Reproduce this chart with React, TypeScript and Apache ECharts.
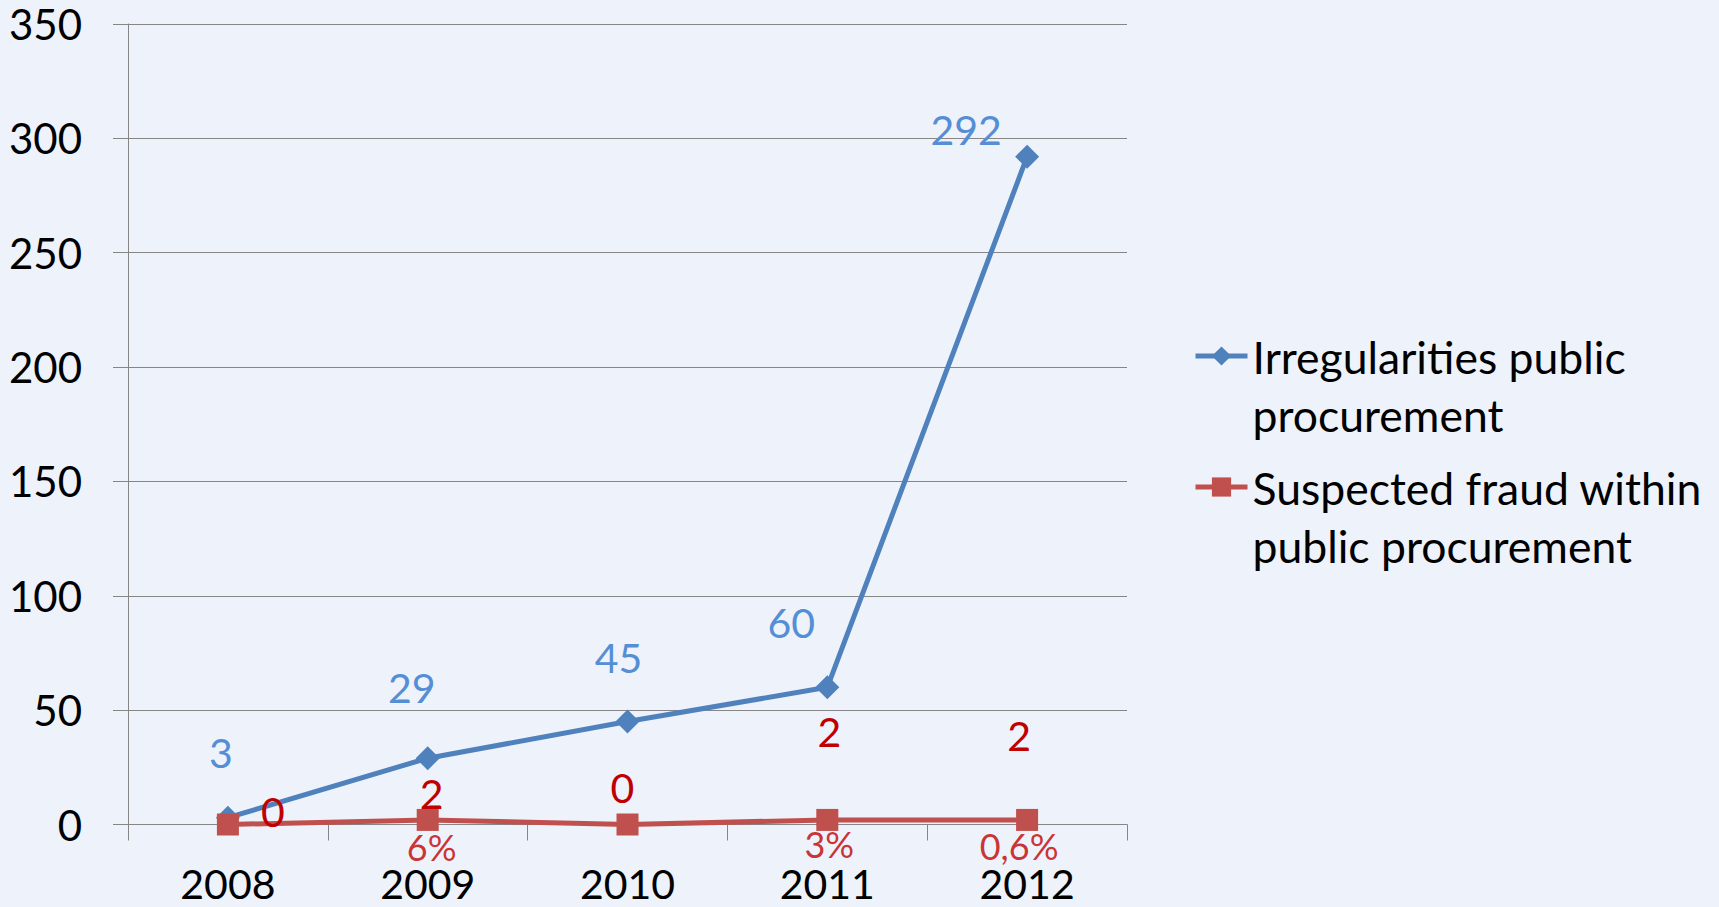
import React, { useEffect, useRef } from "react";
import * as echarts from "echarts";

const years = ["2008", "2009", "2010", "2011", "2012"];
const irregularities = [3, 29, 45, 60, 292];
const suspectedFraud = [0, 2, 0, 2, 2];
const fraudShare = ["", "6%", "", "3%", "0,6%"];
const seriesNames = ["Irregularities public procurement", "Suspected fraud within public procurement"];
const legendLines: Record<string, string> = {
  "Irregularities public procurement": "Irregularities public\nprocurement",
  "Suspected fraud within public procurement": "Suspected fraud within\npublic procurement",
};

// label placement (style only)
const blueLabelOffsets = [[-7, -65], [-16, -71], [-9, -64], [-36, -65], [-61, -27]];
const redLabelOffsets = [[45, -13], [4, -26], [-5, -37], [2, -88], [-8, -84]];
const shareLabelOffsets = [[0, 27], [4, 27], [0, 27], [2, 24], [-8, 26]];

const FONT = "Lato";

export default function App() {
  const ref = useRef<HTMLDivElement>(null);
  useEffect(() => {
    if (!ref.current) return;
    const chart = echarts.init(ref.current, undefined, { renderer: "svg" });
    const legendBase = {
      orient: "vertical",
      left: 1193,
      padding: 0,
      itemWidth: 52,
      itemHeight: 24,
      itemGap: 0,
      lineStyle: { width: 5 },
      textStyle: { fontFamily: FONT, fontSize: 44.5, lineHeight: 58, color: "#000" },
      formatter: (name: string) => "\n" + (legendLines[name] || name),
      selectedMode: false,
    };
    chart.setOption({
      animation: false,
      backgroundColor: "#EEF2FA",
      grid: { left: 128, right: 592, top: 24, bottom: 82.5 },
      legend: [
        { ...legendBase, top: 269, data: [seriesNames[0]] },
        { ...legendBase, top: 400, data: [seriesNames[1]] },
      ],
      xAxis: {
        type: "category",
        data: years,
        boundaryGap: true,
        axisLine: { show: true, lineStyle: { color: "#868686", width: 1 } },
        axisTick: { show: true, length: 16, lineStyle: { color: "#868686" } },
        axisLabel: { margin: 42, fontFamily: FONT, fontSize: 41, lineHeight: 34, color: "#000" },
      },
      yAxis: {
        type: "value",
        min: 0,
        max: 350,
        interval: 50,
        axisLine: { show: true, lineStyle: { color: "#868686", width: 1 } },
        axisTick: { show: true, length: 15, lineStyle: { color: "#868686" } },
        splitLine: { show: true, lineStyle: { color: "#868686", width: 1 } },
        axisLabel: { margin: 46, fontFamily: FONT, fontSize: 42, color: "#000" },
      },
      series: [
        {
          name: seriesNames[0],
          type: "line",
          data: irregularities.map((v, i) => ({
            value: v,
            label: { offset: blueLabelOffsets[i] },
          })),
          symbol: "diamond",
          symbolSize: 24,
          lineStyle: { color: "#4F81BD", width: 5 },
          itemStyle: { color: "#4F81BD" },
          label: {
            show: true,
            position: "inside",
            fontFamily: FONT,
            fontSize: 41,
            color: "#558ED5",
          },
          z: 3,
        },
        {
          name: seriesNames[1],
          type: "line",
          data: suspectedFraud.map((v, i) => ({
            value: v,
            label: { offset: redLabelOffsets[i] },
          })),
          symbol: "rect",
          symbolSize: 22,
          lineStyle: { color: "#C0504D", width: 5 },
          itemStyle: { color: "#C0504D" },
          label: {
            show: true,
            position: "inside",
            fontFamily: FONT,
            fontSize: 41,
            color: "#C00000",
          },
          z: 4,
        },
        {
          name: "share",
          type: "scatter",
          silent: true,
          data: suspectedFraud.map((v, i) => ({
            value: v,
            label: { offset: shareLabelOffsets[i] },
          })),
          symbolSize: 1,
          itemStyle: { color: "rgba(0,0,0,0)" },
          label: {
            show: true,
            position: "inside",
            fontFamily: FONT,
            fontSize: 36,
            lineHeight: 28,
            color: "#C00000",
            formatter: (p: any) => fraudShare[p.dataIndex],
          },
          z: 5,
        },
      ],
    });
    return () => chart.dispose();
  }, []);
  return (
    <div
      ref={ref}
      style={{ position: "fixed", left: 0, top: 0, width: 1719, height: 907 }}
    />
  );
}
